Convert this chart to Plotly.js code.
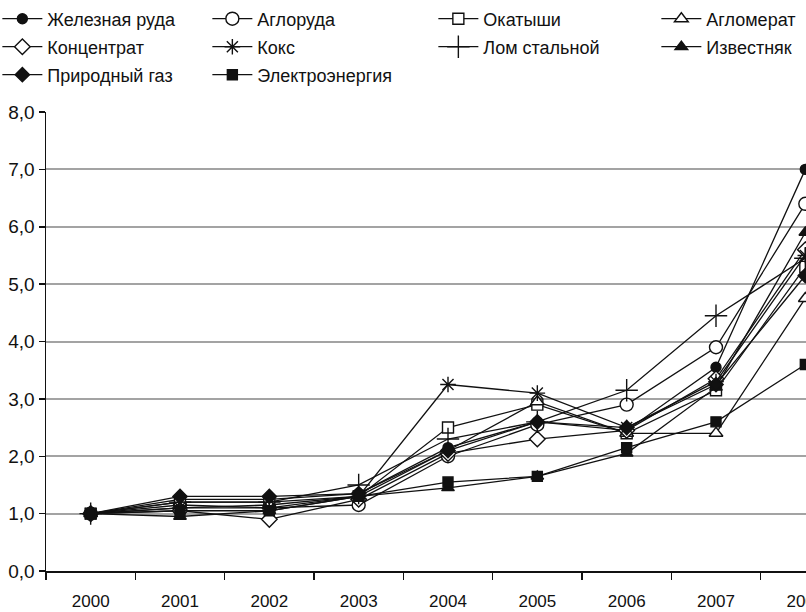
<!DOCTYPE html>
<html>
<head>
<meta charset="utf-8">
<script src="https://cdn.plot.ly/plotly-3.0.1.min.js"></script>
<style>
html,body{margin:0;padding:0;overflow:hidden;background:#fff;}
#chart{width:1000px;height:612px;}
</style>
</head>
<body>
<div id="chart"></div>
<script>
var years = ['2000','2001','2002','2003','2004','2005','2006','2007','2008'];

var zheleznayaRuda  = [1.0, 1.25, 1.25, 1.35, 2.15, 2.60, 2.45, 3.55, 7.00];
var aglorudа        = [1.0, 1.15, 1.10, 1.15, 2.00, 2.55, 2.90, 3.90, 6.40];
var okatyshi        = [1.0, 1.20, 1.20, 1.30, 2.50, 2.90, 2.40, 3.15, 5.30];
var aglomerat       = [1.0, 1.10, 1.15, 1.30, 2.10, 2.95, 2.40, 2.40, 4.75];
var koncentrat      = [1.0, 1.05, 0.90, 1.25, 2.05, 2.30, 2.45, 3.35, 5.60];
var koks            = [1.0, 1.10, 1.10, 1.30, 3.25, 3.10, 2.50, 3.30, 5.50];
var lomStalnoy      = [1.0, 1.20, 1.20, 1.50, 2.30, 2.60, 3.15, 4.45, 5.45];
var izvestnyak      = [1.0, 0.95, 1.05, 1.30, 1.45, 1.65, 2.05, 3.20, 5.90];
var prirodnyGaz     = [1.0, 1.30, 1.30, 1.35, 2.10, 2.60, 2.50, 3.25, 5.15];
var elektroenergiya = [1.0, 1.05, 1.05, 1.30, 1.55, 1.65, 2.15, 2.60, 3.60];

var colWidths = [155, 171, 168, 100];

var series = [
  {name:'Железная руда', y:zheleznayaRuda, symbol:'circle', fill:'#111', size:10, legend:'legend', col:0},
  {name:'Аглоруда', y:aglorudа, symbol:'circle', fill:'#fff', size:13, legend:'legend', col:1},
  {name:'Окатыши', y:okatyshi, symbol:'square', fill:'#fff', size:11, legend:'legend', col:2},
  {name:'Агломерат', y:aglomerat, symbol:'triangle-up', fill:'#fff', size:12, legend:'legend', col:3},
  {name:'Концентрат', y:koncentrat, symbol:'diamond', fill:'#fff', size:12, legend:'legend2', col:0},
  {name:'Кокс', y:koks, symbol:'asterisk-open', fill:'#111', size:13, legend:'legend2', col:1},
  {name:'Лом стальной', y:lomStalnoy, symbol:'cross-thin-open', fill:'#111', size:16, legend:'legend2', col:2},
  {name:'Известняк', y:izvestnyak, symbol:'triangle-up', fill:'#111', size:11, legend:'legend2', col:3},
  {name:'Природный газ', y:prirodnyGaz, symbol:'diamond', fill:'#111', size:11, legend:'legend3', col:0},
  {name:'Электроэнергия', y:elektroenergiya, symbol:'square', fill:'#111', size:10, legend:'legend3', col:1}
];

var traces = series.map(function(s){
  return {
    type:'scatter', mode:'lines+markers', name:s.name, x:years, y:s.y,
    legend:s.legend, legendwidth:colWidths[s.col],
    line:{color:'#111', width:1.3},
    marker:{symbol:s.symbol, size:s.size, color:s.fill, line:{color:'#111', width:1.4}}
  };
});

var FAM = 'Liberation Sans, Arial, sans-serif';
var font = {family:FAM, color:'#111', size:18};
var legBase = {orientation:'h', x:-0.0605, xanchor:'left', yanchor:'middle',
  entrywidthmode:'pixels', bgcolor:'rgba(0,0,0,0)', borderwidth:0,
  font:{family:FAM, size:18, color:'#111'}, itemwidth:40};

var layout = {
  width:1000, height:612,
  margin:{l:46, r:150, t:112, b:41, autoexpand:false},
  paper_bgcolor:'#fff', plot_bgcolor:'#fff',
  font:font,
  separators:',.',
  showlegend:true,
  legend:Object.assign({}, legBase, {y:1.2026}),
  legend2:Object.assign({}, legBase, {y:1.1416}),
  legend3:Object.assign({}, legBase, {y:1.0806}),
  xaxis:{type:'category', range:[-0.5, 8.5], showgrid:false, zeroline:false,
    showline:true, linecolor:'#111', linewidth:1.5,
    ticks:'outside', tickson:'boundaries', ticklen:7, tickcolor:'#111', tickwidth:1.5,
    tickfont:{family:FAM, size:17, color:'#111'}, ticklabelstandoff:14},
  yaxis:{range:[0, 8], dtick:1, tickformat:'.1f', showgrid:true, gridcolor:'#a3a3a3', gridwidth:2,
    zeroline:false, showline:true, linecolor:'#111', linewidth:1.5,
    ticks:'outside', ticklen:6, tickcolor:'#111', tickwidth:1.5,
    tickfont:{family:FAM, size:19, color:'#111'}}
};

Plotly.newPlot('chart', traces, layout, {displayModeBar:false, staticPlot:true});
</script>
</body>
</html>
